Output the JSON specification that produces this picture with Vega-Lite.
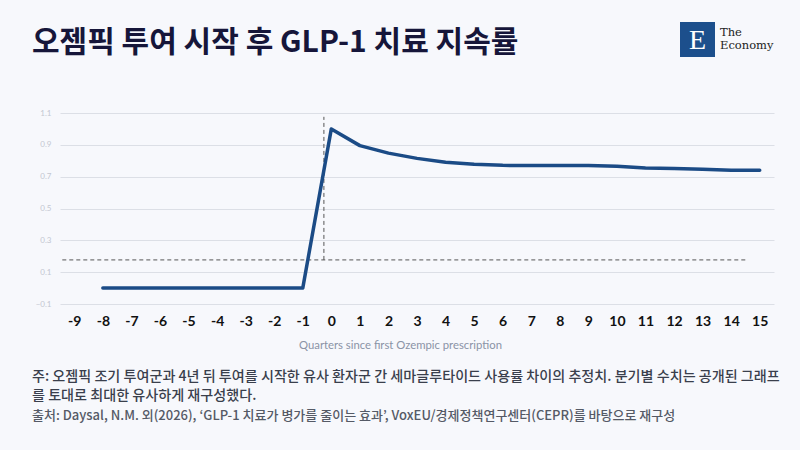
{
  "$schema": "https://vega.github.io/schema/vega-lite/v6.json",
  "background": "#f7f8fc",
  "padding": {"left": 32, "top": 22, "right": 30, "bottom": 40},
  "spacing": 52,
  "title": {
    "text": "오젬픽 투여 시작 후 GLP-1 치료 지속률",
    "anchor": "start",
    "frame": "bounds",
    "font": "Noto Sans CJK KR",
    "fontSize": 30,
    "fontWeight": "bold",
    "color": "#16163a",
    "offset": -36
  },
  "config": {
    "view": {"stroke": null},
    "font": "Noto Sans CJK KR",
    "concat": {"spacing": 5}
  },
  "vconcat": [
    {
      "hconcat": [
        {
          "width": 615,
          "height": 35,
          "data": {"values": []},
          "mark": "text"
        },
        {
          "width": 35,
          "height": 35,
          "data": {"values": [{"letter": "E"}]},
          "layer": [
            {"mark": {"type": "square", "size": 1225, "color": "#1c4f8c", "opacity": 1, "filled": true}},
            {
              "mark": {"type": "text", "font": "Liberation Serif", "fontSize": 28, "color": "white", "baseline": "middle", "dy": 1},
              "encoding": {"text": {"field": "letter"}}
            }
          ]
        },
        {
          "width": 55,
          "height": 35,
          "data": {"values": [{"line": 1, "word": "The"}, {"line": 2, "word": "Economy"}]},
          "mark": {"type": "text", "font": "DejaVu Serif", "fontSize": 11.5, "align": "left", "baseline": "middle", "color": "#222222"},
          "encoding": {
            "y": {"field": "line", "type": "ordinal", "axis": null, "scale": {"padding": 0.9}},
            "x": {"datum": 0, "type": "quantitative", "scale": {"domain": [0, 1]}, "axis": null},
            "text": {"field": "word"}
          }
        }
      ]
    },
    {
      "width": 714,
      "height": 191,
      "title": {
        "text": [
          "주: 오젬픽 조기 투여군과 4년 뒤 투여를 시작한 유사 환자군 간 세마글루타이드 사용률 차이의 추정치. 분기별 수치는 공개된 그래프",
          "를 토대로 최대한 유사하게 재구성했다."
        ],
        "subtitle": "출처: Daysal, N.M. 외(2026), ‘GLP-1 치료가 병가를 줄이는 효과’, VoxEU/경제정책연구센터(CEPR)를 바탕으로 재구성",
        "orient": "bottom",
        "anchor": "start",
        "frame": "bounds",
        "font": "Noto Sans CJK KR",
        "fontSize": 14.1,
        "fontWeight": 500,
        "color": "#3a3f4c",
        "lineHeight": 19,
        "subtitleFont": "Noto Sans CJK KR",
        "subtitleFontSize": 13,
        "subtitleFontWeight": 500,
        "subtitleColor": "#555a66",
        "subtitlePadding": 7,
        "offset": 20
      },
      "encoding": {
        "x": {
          "field": "q",
          "type": "quantitative",
          "scale": {"domain": [-9.5, 15.5], "nice": false, "zero": false},
          "axis": {
            "values": [-9, -8, -7, -6, -5, -4, -3, -2, -1, 0, 1, 2, 3, 4, 5, 6, 7, 8, 9, 10, 11, 12, 13, 14, 15],
            "labelExpr": "'' + datum.value",
            "grid": false,
            "domain": false,
            "ticks": false,
            "labelFont": "Lato",
            "labelFontWeight": "bold",
            "labelFontSize": 14,
            "labelColor": "#111111",
            "labelPadding": 10,
            "title": "Quarters since first Ozempic prescription",
            "titleFont": "Lato",
            "titleFontSize": 11.3,
            "titleFontWeight": "normal",
            "titleColor": "#8a93a6",
            "titlePadding": 11,
            "titleX": 340
          }
        },
        "y": {
          "field": "v",
          "type": "quantitative",
          "scale": {"domain": [-0.1, 1.1], "nice": false, "zero": false},
          "axis": {
            "values": [-0.1, 0.1, 0.3, 0.5, 0.7, 0.9, 1.1],
            "format": ".1f",
            "grid": true,
            "gridColor": "#dcdfe6",
            "domain": false,
            "ticks": false,
            "labelFont": "Lato",
            "labelFontSize": 8,
            "labelColor": "#c3c7d1",
            "labelPadding": 9,
            "minExtent": 28,
            "title": null
          }
        }
      },
      "layer": [
        {
          "data": {
            "values": [
              {"q": -9.42, "q2": 14.55, "v": 0.177, "v2": 0.177},
              {"q": -0.26, "q2": -0.26, "v": 0.177, "v2": 1.076}
            ]
          },
          "mark": {"type": "rule", "strokeDash": [4, 3], "color": "#555555", "strokeWidth": 1},
          "encoding": {
            "x2": {"field": "q2"},
            "y2": {"field": "v2"}
          }
        },
        {
          "data": {
            "values": [
              {"q": -8, "v": 0},
              {"q": -7, "v": 0},
              {"q": -6, "v": 0},
              {"q": -5, "v": 0},
              {"q": -4, "v": 0},
              {"q": -3, "v": 0},
              {"q": -2, "v": 0},
              {"q": -1, "v": 0},
              {"q": 0, "v": 1.0},
              {"q": 1, "v": 0.895},
              {"q": 2, "v": 0.848},
              {"q": 3, "v": 0.815},
              {"q": 4, "v": 0.79},
              {"q": 5, "v": 0.778},
              {"q": 6, "v": 0.771},
              {"q": 7, "v": 0.77},
              {"q": 8, "v": 0.77},
              {"q": 9, "v": 0.77},
              {"q": 10, "v": 0.765},
              {"q": 11, "v": 0.755},
              {"q": 12, "v": 0.752},
              {"q": 13, "v": 0.746},
              {"q": 14, "v": 0.74},
              {"q": 15, "v": 0.74}
            ]
          },
          "mark": {"type": "line", "color": "#1b4b86", "strokeWidth": 3.5, "strokeCap": "round", "strokeJoin": "round"}
        }
      ]
    }
  ]
}
